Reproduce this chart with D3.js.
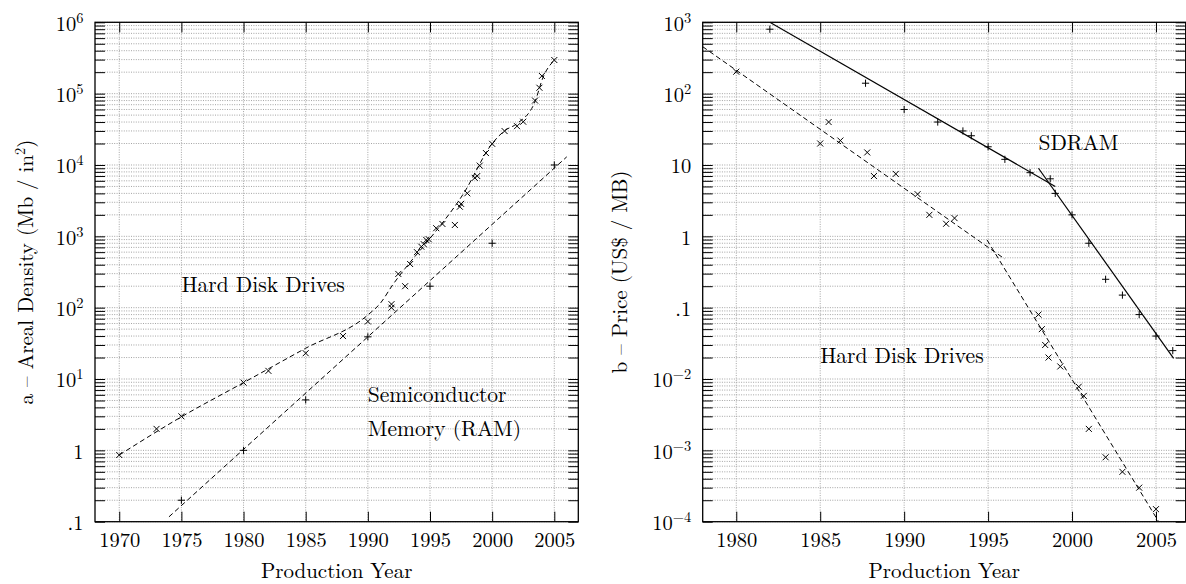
<!DOCTYPE html>
<html>
<head>
<meta charset="utf-8">
<title>Areal density and price</title>
<script src="https://d3js.org/d3.v7.min.js"></script>
<style>
  body { margin: 0; background: #fff; }
</style>
</head>
<body>
<div id="view"></div>
<script>
var width = 1186;
var height = 584;
var serif = "'Latin Modern Roman'";

// ---- panel a : areal density (Mb / in^2)
var hddYears = [1970, 1973, 1975, 1980, 1982, 1985, 1988, 1990, 1991.9, 1991.9, 1992.45, 1993, 1993.4,
    1993.95, 1994.3, 1994.5, 1994.7, 1994.9, 1995.5, 1996, 1997, 1997.4, 1997.5, 1998, 1998.6, 1998.8,
    1999, 1999.5, 2000, 2001, 2002, 2002.5, 2003.45, 2003.8, 2004, 2005];
var hddDensity = [0.86, 2, 3, 8.9, 13, 23, 40, 64, 100, 112, 297, 200, 409,
    600, 716, 776, 889, 910, 1300, 1490, 1443, 2600, 2850, 4010, 6600, 7000,
    9800, 14700, 19800, 29900, 35000, 40400, 80000, 121000, 177000, 296000];
var ramYears = [1975, 1980, 1985, 1990, 1995, 2000, 2005];
var ramDensity = [0.2, 1, 5.1, 39, 200, 800, 10000];
// fitted curves
var hddFitYears = [1970, 1975, 1980, 1985, 1990, 1991, 1992, 1993, 1995, 1997.7, 2000, 2001, 2002, 2003.45, 2004.1, 2005];
var hddFitDensity = [0.86, 2.95, 8.9, 27, 79, 115, 209, 355, 933, 3980, 19950, 30200, 38000, 77600, 170000, 295000];
var ramFitYears = [1974, 2006];
var ramFitDensity = [0.117, 13000];
var densityTicks = [0.1, 1, 10, 100, 1e3, 1e4, 1e5, 1e6];
var densityLabels = [".1", "1", "10^1", "10^2", "10^3", "10^4", "10^5", "10^6"];
var yearTicksA = [1970, 1975, 1980, 1985, 1990, 1995, 2000, 2005];

// ---- panel b : price (US$ / MB)
var sdramYears = [1982, 1987.7, 1990, 1992, 1993.5, 1994, 1995, 1996, 1997.5, 1998.7, 1999, 2000,
    2001, 2002, 2003, 2004, 2005, 2006];
var sdramPrice = [800, 140, 60, 40, 30, 25.7, 18, 12, 7.8, 6.4, 4.0, 2.0,
    0.80, 0.25, 0.15, 0.08, 0.04, 0.025];
var hddPriceYears = [1980, 1985, 1985.5, 1986.2, 1987.8, 1988.2, 1989.5, 1990.8, 1991.5, 1992.5, 1993,
    1998, 1998.2, 1998.4, 1998.6, 1999.3, 2000.4, 2000.7, 2001, 2002, 2003, 2004, 2005];
var hddPrice = [203, 20, 40, 22, 15, 7, 7.5, 3.9, 2.0, 1.5, 1.8,
    0.08, 0.05, 0.03, 0.02, 0.015, 0.0078, 0.0058, 0.002, 0.0008, 0.0005, 0.0003, 0.00015];
var sdramFitYears1 = [1982, 1999.0];
var sdramFitPrice1 = [1000, 5.0];
var sdramFitYears2 = [1998.0, 2006.05];
var sdramFitPrice2 = [9.0, 0.0195];
var hddPriceFitYears1 = [1978, 1996.0];
var hddPriceFitPrice1 = [455, 0.48];
var hddPriceFitYears2 = [1994.94, 2005.16];
var hddPriceFitPrice2 = [0.887, 0.0001];
var priceTicks = [1e-4, 1e-3, 1e-2, 0.1, 1, 10, 100, 1e3];
var priceLabels = ["10^-4", "10^-3", "10^-2", ".1", "1", "10", "10^2", "10^3"];
var yearTicksB = [1980, 1985, 1990, 1995, 2000, 2005];

var svg = d3.select("#view")
    .append("svg")
    .attr("width", width)
    .attr("height", height);
var defs = svg.append("defs");

var plotTop = 22.3, plotBottom = 521.7;

var xA = d3.scaleLinear().domain([1968.05, 2006.93]).range([95, 578.3]);
var yA = d3.scaleLog().domain([0.1, 1e6]).range([plotBottom, plotTop]);
var xB = d3.scaleLinear().domain([1978, 2006.77]).range([702.7, 1185.7]);
var yB = d3.scaleLog().domain([1e-4, 1e3]).range([plotBottom, plotTop]);

function xMark(s) {
    return "M" + (-s) + "," + (-s) + "L" + s + "," + s + "M" + (-s) + "," + s + "L" + s + "," + (-s);
}
function plusMark(s) {
    return "M" + (-s) + ",0L" + s + ",0M0," + (-s) + "L0," + s;
}

// all 1..9 x 10^k values inside the domain (grid + minor ticks)
function logSteps(domain) {
    var out = [];
    var k0 = Math.floor(Math.log10(domain[0])), k1 = Math.ceil(Math.log10(domain[1]));
    for (var k = k0; k <= k1; k++) {
        for (var m = 1; m <= 9; m++) {
            var v = m * Math.pow(10, k);
            if (v >= domain[0] * 0.999 && v <= domain[1] * 1.001) out.push(v);
        }
    }
    return out;
}

function setLabel(sel, label) {
    var parts = label.split("^");
    sel.text(parts[0]);
    if (parts.length > 1) {
        sel.append("tspan")
            .attr("dy", "-8")
            .attr("font-size", 14.5)
            .attr("font-family", serif)
            .text(parts[1].replace("-", "\u2212"));
    }
}

function panel(opt) {
    var x = opt.x, y = opt.y;
    var x0 = x.range()[0], x1 = x.range()[1];
    var steps = logSteps(y.domain());
    var g = svg.append("g");

    defs.append("clipPath").attr("id", opt.id + "-clip")
        .append("rect")
        .attr("x", x0).attr("y", plotTop)
        .attr("width", x1 - x0).attr("height", plotBottom - plotTop);

    // grid
    var grid = g.append("g")
        .attr("stroke", "#9a9a9a")
        .attr("stroke-width", 0.9)
        .attr("stroke-dasharray", "1,1.4");
    grid.selectAll(".h").data(steps).join("line")
        .attr("class", "h")
        .attr("x1", x0).attr("x2", x1)
        .attr("y1", function (d) { return y(d); })
        .attr("y2", function (d) { return y(d); });
    grid.selectAll(".v").data(opt.xticks).join("line")
        .attr("class", "v")
        .attr("y1", plotTop).attr("y2", plotBottom)
        .attr("x1", function (d) { return x(d); })
        .attr("x2", function (d) { return x(d); });

    // axes, ticks pointing inward
    var bottom = g.append("g")
        .attr("transform", "translate(0," + plotBottom + ")")
        .call(d3.axisBottom(x).tickValues(opt.xticks).tickFormat(d3.format("d")).tickSize(-10).tickPadding(11));
    var top = g.append("g")
        .attr("transform", "translate(0," + plotTop + ")")
        .call(d3.axisTop(x).tickValues(opt.xticks).tickFormat(function () { return ""; }).tickSize(-10));
    var left = g.append("g")
        .attr("transform", "translate(" + x0 + ",0)")
        .call(d3.axisLeft(y).tickValues(steps).tickFormat(function () { return ""; }).tickSize(-10).tickPadding(11.5));
    var right = g.append("g")
        .attr("transform", "translate(" + x1 + ",0)")
        .call(d3.axisRight(y).tickValues(steps).tickFormat(function () { return ""; }).tickSize(-10));

    [bottom, top, left, right].forEach(function (a) {
        a.attr("font-size", 20.5).attr("font-family", serif);
        a.select(".domain").remove();
        a.selectAll(".tick line").attr("stroke", "#000").attr("stroke-width", 1);
        a.selectAll(".tick text").attr("font-family", serif);
    });

    left.selectAll(".tick text").each(function (d) {
        for (var i = 0; i < opt.yticks.length; i++) {
            if (Math.abs(d / opt.yticks[i] - 1) < 1e-6) setLabel(d3.select(this), opt.ylabels[i]);
        }
    }).attr("dy", "0.38em");

    // frame
    g.append("rect")
        .attr("x", x0).attr("y", plotTop)
        .attr("width", x1 - x0).attr("height", plotBottom - plotTop)
        .attr("fill", "none")
        .attr("stroke", "#000")
        .attr("stroke-width", 1.3);

    // fitted lines
    var line = d3.line()
        .x(function (d) { return x(d[0]); })
        .y(function (d) { return y(d[1]); });
    var lines = g.append("g").attr("clip-path", "url(#" + opt.id + "-clip)");
    opt.fits.forEach(function (f) {
        lines.append("path")
            .datum(f.data)
            .attr("d", line.curve(f.curve || d3.curveLinear))
            .attr("fill", "none")
            .attr("stroke", "#000")
            .attr("stroke-width", f.dashed ? 1 : 1.2)
            .attr("stroke-dasharray", f.dashed ? "5,3.2" : null);
    });

    // markers
    opt.series.forEach(function (s) {
        g.append("g").selectAll("path").data(s.data).join("path")
            .attr("transform", function (d) { return "translate(" + x(d[0]) + "," + y(d[1]) + ")"; })
            .attr("d", s.mark)
            .attr("fill", "none")
            .attr("stroke", "#000")
            .attr("stroke-width", 1);
    });

    // annotations
    opt.notes.forEach(function (n) {
        g.append("text")
            .attr("x", x(n.at[0]))
            .attr("y", y(n.at[1]))
            .attr("font-family", serif)
            .attr("font-size", 21.5)
            .text(n.text);
    });

    // axis titles
    var cx = (x0 + x1) / 2, cy = (plotTop + plotBottom) / 2;
    g.append("text")
        .attr("x", cx).attr("y", 578)
        .attr("text-anchor", "middle")
        .attr("font-family", serif)
        .attr("font-size", 21)
        .text("Production Year");
    var yt = g.append("text")
        .attr("transform", "translate(" + opt.titleX + "," + cy + ") rotate(-90)")
        .attr("text-anchor", "middle")
        .attr("font-family", serif)
        .attr("font-size", 21);
    opt.title(yt);
}

panel({
    id: "pa", x: xA, y: yA,
    xticks: yearTicksA, yticks: densityTicks, ylabels: densityLabels,
    titleX: 33,
    title: function (t) {
        t.append("tspan").attr("font-family", serif).text("a \u2013 Areal Density (Mb / in");
        t.append("tspan").attr("font-family", serif).attr("dy", -8).attr("font-size", 14.5).text("2");
        t.append("tspan").attr("font-family", serif).attr("dy", 8).text(")");
    },
    fits: [
        { data: d3.zip(hddFitYears, hddFitDensity), dashed: true, curve: d3.curveMonotoneX },
        { data: d3.zip(ramFitYears, ramFitDensity), dashed: true }
    ],
    series: [
        { data: d3.zip(hddYears, hddDensity), mark: xMark(3) },
        { data: d3.zip(ramYears, ramDensity), mark: plusMark(3.6) }
    ],
    notes: [
        { text: "Hard Disk Drives", at: [1975, 166] },
        { text: "Semiconductor", at: [1990, 4.8] },
        { text: "Memory (RAM)", at: [1990, 1.6] }
    ]
});

panel({
    id: "pb", x: xB, y: yB,
    xticks: yearTicksB, yticks: priceTicks, ylabels: priceLabels,
    titleX: 627,
    title: function (t) {
        t.text("b \u2013 Price (US$ / MB)");
    },
    fits: [
        { data: d3.zip(sdramFitYears1, sdramFitPrice1) },
        { data: d3.zip(sdramFitYears2, sdramFitPrice2) },
        { data: d3.zip(hddPriceFitYears1, hddPriceFitPrice1), dashed: true },
        { data: d3.zip(hddPriceFitYears2, hddPriceFitPrice2), dashed: true }
    ],
    series: [
        { data: d3.zip(sdramYears, sdramPrice), mark: plusMark(3.6) },
        { data: d3.zip(hddPriceYears, hddPrice), mark: xMark(3) }
    ],
    notes: [
        { text: "SDRAM", at: [1998.0, 16.2] },
        { text: "Hard Disk Drives", at: [1985, 0.0166] }
    ]
});
</script>
</body>
</html>
